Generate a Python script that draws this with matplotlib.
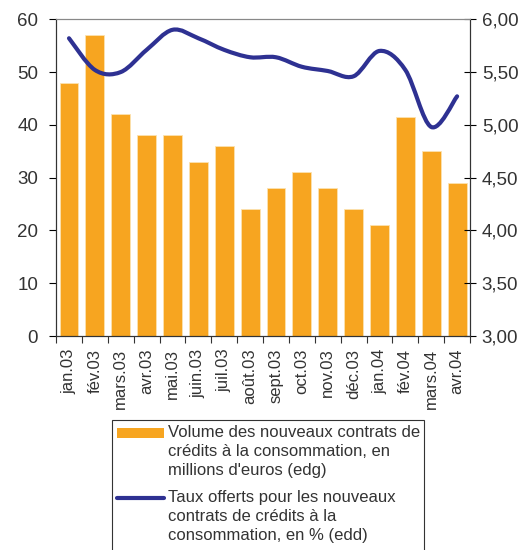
import matplotlib
matplotlib.use('Agg')
import matplotlib.pyplot as plt
from matplotlib.path import Path
from matplotlib.patches import PathPatch, Rectangle
from matplotlib.lines import Line2D
from matplotlib.ticker import FuncFormatter

plt.rcParams['font.family'] = ['Liberation Sans', 'DejaVu Sans']

months = ['jan.03', 'fév.03', 'mars.03', 'avr.03', 'mai.03', 'juin.03', 'juil.03',
          'août.03', 'sept.03', 'oct.03', 'nov.03', 'déc.03', 'jan.04', 'fév.04',
          'mars.04', 'avr.04']
volume = [48, 57, 42, 38, 38, 33, 36, 24, 28, 31, 28, 24, 21, 41.5, 35, 29]
taux = [5.82, 5.52, 5.50, 5.71, 5.90, 5.82, 5.71, 5.64, 5.64, 5.55, 5.51, 5.46,
        5.70, 5.52, 4.98, 5.27]

label_bar = 'Volume des nouveaux contrats de\ncrédits à la consommation, en\nmillions d\'euros (edg)'
label_line = 'Taux offerts pour les nouveaux\ncontrats de crédits à la\nconsommation, en % (edd)'

ORANGE = '#F7A520'
NAVY = '#2E3192'
TXT = '#333333'
W, H = 524, 550

fig = plt.figure(figsize=(W / 100, H / 100), dpi=100)
ax = fig.add_axes([0.107, 0.389, 0.79, 0.576])
x = list(range(len(months)))
ax.bar(x, volume, width=0.73, color=ORANGE, edgecolor='#FCE2B0', linewidth=0.6, zorder=2)
ax.set_xlim(-0.5, len(months) - 0.5)
ax.set_ylim(0, 60)
ax.set_yticks(range(0, 61, 10))

# ticks between categories, labels at centres
ax.set_xticks([i - 0.5 for i in range(len(months) + 1)])
ax.set_xticklabels([])
ax.set_xticks(x, minor=True)
ax.set_xticklabels(months, minor=True, rotation=90, fontsize=12, color=TXT)
ax.tick_params(axis='x', which='major', direction='out', length=5, color='#333333')
ax.tick_params(axis='x', which='minor', length=0, pad=9)
ax.tick_params(axis='y', direction='out', length=5, labelsize=13.5, labelcolor=TXT, pad=8)

ax2 = ax.twinx()
ax2.set_ylim(3, 6)
ax2.set_yticks([3 + 0.5 * i for i in range(7)])
ax2.yaxis.set_major_formatter(FuncFormatter(lambda v, p: '{:.2f}'.format(v).replace('.', ',')))
ax2.tick_params(axis='y', direction='inout', length=9, labelsize=13.5, labelcolor=TXT, pad=4)

# smooth line drawn as cubic bezier path through the points
pts = list(zip(x, taux))
verts = [pts[0]]
codes = [Path.MOVETO]
n = len(pts)
for i in range(n - 1):
    p0 = pts[max(i - 1, 0)]
    p1 = pts[i]
    p2 = pts[i + 1]
    p3 = pts[min(i + 2, n - 1)]
    c1 = (p1[0] + (p2[0] - p0[0]) / 6, p1[1] + (p2[1] - p0[1]) / 6)
    c2 = (p2[0] - (p3[0] - p1[0]) / 6, p2[1] - (p3[1] - p1[1]) / 6)
    verts += [c1, c2, p2]
    codes += [Path.CURVE4] * 3
ax2.add_patch(PathPatch(Path(verts, codes), fill=False, edgecolor=NAVY,
                        linewidth=3, capstyle='round', joinstyle='round', zorder=3))

for a in (ax, ax2):
    for s in ('left', 'right', 'bottom'):
        a.spines[s].set_color('#333333')
    a.spines['top'].set_color('#888888')

# legend drawn by hand (box runs off the bottom edge like the original)
def fx(px):
    return px / W

def fy(py):
    return 1 - py / H

fig.patches.append(Rectangle((fx(112), fy(560)), fx(424) - fx(112), fy(420) - fy(560),
                             transform=fig.transFigure, fill=False,
                             edgecolor='#333333', linewidth=0.8))
fig.patches.append(Rectangle((fx(117), fy(438)), fx(164) - fx(117), fy(428) - fy(438),
                             transform=fig.transFigure, facecolor=ORANGE, edgecolor='none'))
fig.lines.append(Line2D([fx(117), fx(164)], [fy(498), fy(498)], transform=fig.transFigure,
                        color=NAVY, linewidth=3, solid_capstyle='round'))
fig.text(fx(168), fy(425), label_bar, ha='left', va='top', fontsize=12,
         color=TXT, linespacing=1.35)
fig.text(fx(168), fy(490), label_line, ha='left', va='top', fontsize=12,
         color=TXT, linespacing=1.35)

fig.savefig('out.png', dpi=100)
